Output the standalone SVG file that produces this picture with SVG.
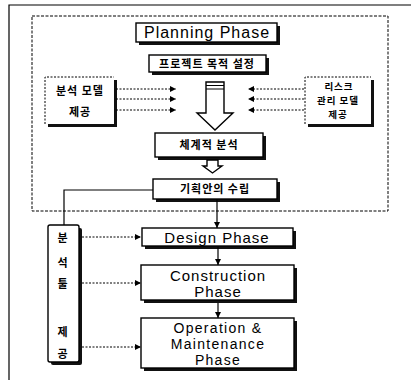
<svg xmlns="http://www.w3.org/2000/svg" width="411" height="380" viewBox="0 0 411 380">
<defs>
<style>
.bx{fill:#fff;stroke:#000;stroke-width:1.4}
.sh{fill:#111}
.en{font-family:"Liberation Sans",Arial,sans-serif;font-size:15px;fill:#000;text-anchor:middle;letter-spacing:1px}
.ko{font-family:"Noto Sans CJK KR","Noto Sans",sans-serif;font-size:11px;font-weight:bold;fill:#000;text-anchor:middle;letter-spacing:1px}
.ln{fill:none;stroke:#000;stroke-width:1.2}
.dl{fill:none;stroke:#000;stroke-width:1;stroke-dasharray:2,1.5}
.dash{fill:none;stroke:#000;stroke-width:1;stroke-dasharray:3,1.5}
</style>
<marker id="ah" viewBox="0 0 10 10" refX="10" refY="5" markerWidth="7" markerHeight="6" orient="auto" markerUnits="userSpaceOnUse">
<path d="M0,0 L10,5 L0,10 z" fill="#000"/>
</marker>
</defs>
<rect width="411" height="380" fill="#fff"/>
<g id="frame">
<path d="M9,380 V5 H411" class="ln" stroke-width="1.5"/>
<rect x="32" y="16" width="356" height="195" class="dash"/>
</g>
<g id="planning">
<rect x="139" y="26" width="141" height="19" class="sh"/>
<rect x="136" y="23" width="141" height="19" class="bx"/>
<text x="207" y="38" class="en" style="font-size:16px">Planning Phase</text>
</g>
<g id="goal">
<rect x="152" y="58" width="117" height="17" class="sh"/>
<rect x="149" y="55" width="117" height="17" class="bx"/>
<text x="207" y="67.5" class="ko">프로젝트 목적 설정</text>
</g>
<g id="analysis-model">
<rect x="48" y="80" width="69" height="47" class="sh"/>
<rect x="45" y="77" width="69" height="47" fill="#fff"/>
<path d="M45,124 V77 H114" class="dl"/>
<text x="80" y="95" class="ko">분석 모델</text>
<text x="80" y="116" class="ko">제공</text>
</g>
<g id="risk-model">
<rect x="308" y="80" width="66" height="47" class="sh"/>
<rect x="305" y="77" width="66" height="47" fill="#fff"/>
<path d="M305,124 V77 H371" class="dl"/>
<text x="339" y="90" class="ko" style="font-size:9.5px">리스크</text>
<text x="338" y="104" class="ko" style="font-size:9.5px">관리 모델</text>
<text x="338" y="118" class="ko" style="font-size:9.5px">제공</text>
</g>
<g id="big-arrow">
<path d="M206,82 H224 V113 H233 L215,130 L197,113 H206 Z" class="bx" stroke-width="1.3"/>
<path d="M206,85.5 H224 M206,89 H224" class="ln"/>
</g>
<g id="systematic">
<rect x="158" y="136" width="108" height="24" class="sh"/>
<rect x="155" y="133" width="108" height="24" class="bx"/>
<text x="209" y="149" class="ko">체계적 분석</text>
</g>
<g id="small-arrow">
<path d="M207,160 H218 V166 H222 L212.5,173 L203,166 H207 Z" class="bx" stroke-width="1.3"/>
</g>
<g id="plan">
<rect x="156" y="182" width="124" height="20" class="sh"/>
<rect x="153" y="179" width="124" height="20" class="bx"/>
<text x="215" y="193" class="ko">기획안의 수립</text>
</g>
<g id="tools">
<rect x="51" y="228" width="31" height="137" rx="2" class="sh"/>
<rect x="48" y="225" width="31" height="137" rx="2" class="bx"/>
<text x="63" y="242" class="ko">분</text>
<text x="63" y="267" class="ko">석</text>
<text x="63" y="288" class="ko">툴</text>
<text x="63" y="336" class="ko">제</text>
<text x="63" y="358" class="ko">공</text>
</g>
<g id="design">
<rect x="145" y="231" width="151" height="18" class="sh"/>
<rect x="142" y="228" width="151" height="18" class="bx"/>
<text x="217" y="243" class="en">Design Phase</text>
</g>
<g id="construction">
<rect x="144" y="268" width="153" height="35" class="sh"/>
<rect x="141" y="265" width="153" height="35" class="bx"/>
<text x="218" y="281" class="en">Construction</text>
<text x="218" y="297" class="en">Phase</text>
</g>
<g id="operation">
<rect x="144" y="321" width="153" height="50" class="sh"/>
<rect x="141" y="318" width="153" height="50" class="bx"/>
<text x="218" y="333" class="en" style="font-size:14px;letter-spacing:1.3px">Operation &amp;</text>
<text x="218" y="349" class="en" style="font-size:14px;letter-spacing:1.3px">Maintenance</text>
<text x="218" y="365" class="en" style="font-size:14px;letter-spacing:1.3px">Phase</text>
</g>
<g id="connectors">
<line x1="116" y1="89" x2="176" y2="89" class="dl" marker-end="url(#ah)"/>
<line x1="116" y1="99" x2="176" y2="99" class="dl" marker-end="url(#ah)"/>
<line x1="116" y1="110" x2="176" y2="110" class="dl" marker-end="url(#ah)"/>
<line x1="304" y1="89" x2="248" y2="89" class="dl" marker-end="url(#ah)"/>
<line x1="304" y1="99" x2="248" y2="99" class="dl" marker-end="url(#ah)"/>
<line x1="304" y1="110" x2="248" y2="110" class="dl" marker-end="url(#ah)"/>
<path d="M153,190 H64 V225" class="ln"/>
<line x1="217" y1="199" x2="217" y2="228" class="ln" marker-end="url(#ah)"/>
<line x1="218" y1="247" x2="218" y2="265" class="ln" marker-end="url(#ah)"/>
<line x1="218" y1="303" x2="218" y2="318" class="ln" marker-end="url(#ah)"/>
<line x1="82" y1="237" x2="141" y2="237" class="dl" marker-end="url(#ah)"/>
<line x1="82" y1="283" x2="141" y2="283" class="dl" marker-end="url(#ah)"/>
<line x1="82" y1="347" x2="141" y2="347" class="dl" marker-end="url(#ah)"/>
</g>
</svg>
